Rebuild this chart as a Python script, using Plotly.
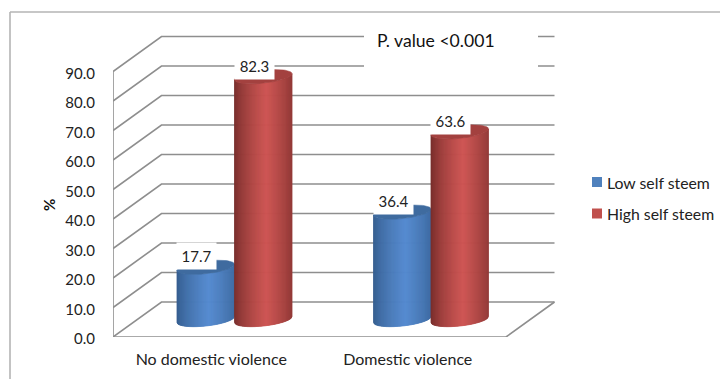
import math
import plotly.graph_objects as go

# Chart data
categories = ["No domestic violence", "Domestic violence"]
series_names = ["Low self steem", "High self steem"]
low_self_steem = [17.7, 36.4]
high_self_steem = [82.3, 63.6]
y_ticks = [0, 10, 20, 30, 40, 50, 60, 70, 80, 90]
p_note = "P. value <0.001"

# Page and plot geometry (pixels)
W, H = 720, 379
LEFT, BOTTOM = 113, 337
PX_PER_CAT = 196.5
PX_PER_VAL = 2.95
DEPTH_PX_X, DEPTH_PX_Y = 48.5, 35.0

# The plotting area spans the page up to its right and top edges so that the
# key and the note can live inside it; the wall itself stops short of that.
x_max = (W - LEFT) / PX_PER_CAT
y_max = BOTTOM / PX_PER_VAL
depth_x = DEPTH_PX_X / PX_PER_CAT
depth_y = DEPTH_PX_Y / PX_PER_VAL

GRID = "#8e8e8e"
TEXT = "#222222"
FONT = "Lato"
FS_NUM = 15
FS_TXT = 16

fig = go.Figure()


def line(xs, ys, color=GRID, width=1.6):
    fig.add_trace(go.Scatter(x=xs, y=ys, mode="lines", showlegend=False, hoverinfo="skip",
                             line=dict(color=color, width=width), cliponaxis=False))


n_cat = len(categories)
wall_end = n_cat + depth_x

# Wall gridlines with their slanted returns to the value axis
for v in y_ticks:
    line([0, depth_x, wall_end], [v, v + depth_y, v + depth_y])
    line([-6 / PX_PER_CAT, 0], [v, v])

# Value axis, floor edge and its ticks
line([0, 0], [0, y_ticks[-1]])
line([0, n_cat, wall_end], [0, 0, depth_y])
for i in range(n_cat + 1):
    line([i, i], [0, -6 / PX_PER_VAL])


def mix(c1, c2, t):
    return "rgb(%d,%d,%d)" % tuple(round(a + (b - a) * t) for a, b in zip(c1, c2))


BAR_PX = 57.5
bar_half = BAR_PX / PX_PER_CAT / 2
# Pair centre: middle of the category, pushed halfway into the depth of the floor
group_shift = depth_x / 2 - 1.0 / PX_PER_CAT


def cylinder(x_center, value, edge, light, cap):
    base = depth_y / 2
    ry = 6.5 / PX_PER_VAL
    tilt = 3.0 / PX_PER_VAL
    n = 58
    n_sub = 3

    def front(u, level):
        # Front rim of a tilted ellipse; u runs from -1 (left) to 1 (right)
        return level + u * tilt - math.sqrt(max(0, 1 - u * u)) * ry

    # Curved side, built from one-pixel vertical strips
    for k in range(n):
        u0 = -1 + 2 * k / n
        us = [u0 + (2 / n) * j / n_sub for j in range(n_sub + 1)]
        xs = [x_center + bar_half * u for u in us]
        bot = [front(u, base) for u in us]
        top = [front(u, base + value) for u in us]
        pos = (k + 0.5) / n
        t = max(0.0, 1 - abs(pos - 0.56) / 0.56) ** 0.7
        color = mix(edge, light, t)
        fig.add_trace(go.Scatter(
            x=xs + xs[::-1] + [xs[0]], y=top + bot[::-1] + [top[0]],
            mode="lines", fill="toself", fillcolor=color,
            line=dict(color=color, width=0.8),
            showlegend=False, hoverinfo="skip", cliponaxis=False))

    # Flat top of the cylinder
    angles = [2 * math.pi * j / 72 for j in range(73)]
    fig.add_trace(go.Scatter(
        x=[x_center + bar_half * math.cos(a) for a in angles],
        y=[base + value + math.cos(a) * tilt + math.sin(a) * ry for a in angles],
        mode="lines", fill="toself", fillcolor=cap, line=dict(color=cap, width=0.5),
        showlegend=False, hoverinfo="skip", cliponaxis=False))


BLUE = dict(edge=(52, 92, 140), light=(84, 138, 208), cap="#3f6b9f")
RED = dict(edge=(116, 44, 42), light=(206, 84, 82), cap="#a3413f")

for i in range(n_cat):
    cx = i + 0.5 + group_shift
    cylinder(cx - bar_half, low_self_steem[i], **BLUE)
    cylinder(cx + bar_half, high_self_steem[i], **RED)

# Value labels sit on white boxes that mask the wall and part of the cap
annotations = []
for i in range(n_cat):
    cx = i + 0.5 + group_shift
    for x_left, value in [(cx - 2 * bar_half, low_self_steem[i]), (cx, high_self_steem[i])]:
        annotations.append(dict(
            x=x_left, y=value + depth_y / 2, text=f"{value:.1f}", showarrow=False,
            xanchor="left", yanchor="bottom", yshift=-3, xshift=-1,
            width=39, height=26, bgcolor="#ffffff", borderpad=0, align="center",
            font=dict(family=FONT, size=FS_NUM, color=TEXT)))


# Paper fractions for page-level decoration
px_x = lambda p: (p - LEFT) / (W - LEFT)
px_y = lambda p: (BOTTOM - p) / BOTTOM

# Significance note over the top of the wall
annotations.append(dict(
    xref="paper", yref="paper", x=px_x(377), y=px_y(41),
    text=p_note, showarrow=False, xanchor="left", yanchor="middle", xshift=-2,
    font=dict(family=FONT, size=17.6, color="#111111")))

# Value axis title
annotations.append(dict(
    xref="paper", yref="paper", x=px_x(49), y=px_y(205), text="<b>%</b>", showarrow=False,
    textangle=-90, xanchor="center", yanchor="middle",
    font=dict(family=FONT, size=15, color="#111111")))

frame = dict(type="line", xref="paper", yref="paper", line=dict(color="#b4b4b4", width=1.6), layer="below")
shapes = [
    dict(frame, x0=px_x(10), x1=px_x(10), y0=px_y(12), y1=px_y(379)),
    dict(frame, x0=px_x(10), x1=px_x(720), y0=px_y(12), y1=px_y(12)),
    dict(type="rect", xref="paper", yref="paper", x0=px_x(364), x1=px_x(538), y0=px_y(76), y1=px_y(28),
         fillcolor="white", line=dict(width=0), layer="above"),
]

# Series key at the right of the chart
for name, color, y_mid in zip(series_names, ["#4f81bd", "#c0504d"], [182, 213.5]):
    shapes.append(dict(type="rect", xref="paper", yref="paper",
                       x0=px_x(592), x1=px_x(602), y0=px_y(y_mid - 5), y1=px_y(y_mid + 5),
                       fillcolor=color, line=dict(width=0)))
    annotations.append(dict(
        xref="paper", yref="paper", x=px_x(607), y=px_y(y_mid), text=name, showarrow=False,
        xanchor="left", yanchor="middle", xshift=-2,
        font=dict(family=FONT, size=15.8, color=TEXT)))

fig.update_layout(
    width=W, height=H, autosize=False,
    margin=dict(l=LEFT, r=0, t=0, b=H - BOTTOM, pad=0),
    paper_bgcolor="white", plot_bgcolor="rgba(0,0,0,0)",
    font=dict(family=FONT, size=FS_NUM, color=TEXT),
    xaxis=dict(range=[0, x_max], showgrid=False, zeroline=False, showline=False, ticks="",
               tickmode="array", tickvals=[i + 0.5 for i in range(n_cat)], ticktext=categories,
               tickfont=dict(family=FONT, size=FS_TXT, color=TEXT),
               ticklabelstandoff=11, fixedrange=True, automargin=False),
    yaxis=dict(range=[0, y_max], showgrid=False, zeroline=False, showline=False, ticks="",
               tickmode="array", tickvals=y_ticks, ticktext=[f"{v:.1f}" for v in y_ticks],
               tickfont=dict(family=FONT, size=FS_NUM, color=TEXT),
               ticklabelstandoff=17, ticklabelshift=2, fixedrange=True, automargin=False),
    annotations=annotations, shapes=shapes, showlegend=False,
)

fig.write_html("out.html", config=dict(displayModeBar=False))
